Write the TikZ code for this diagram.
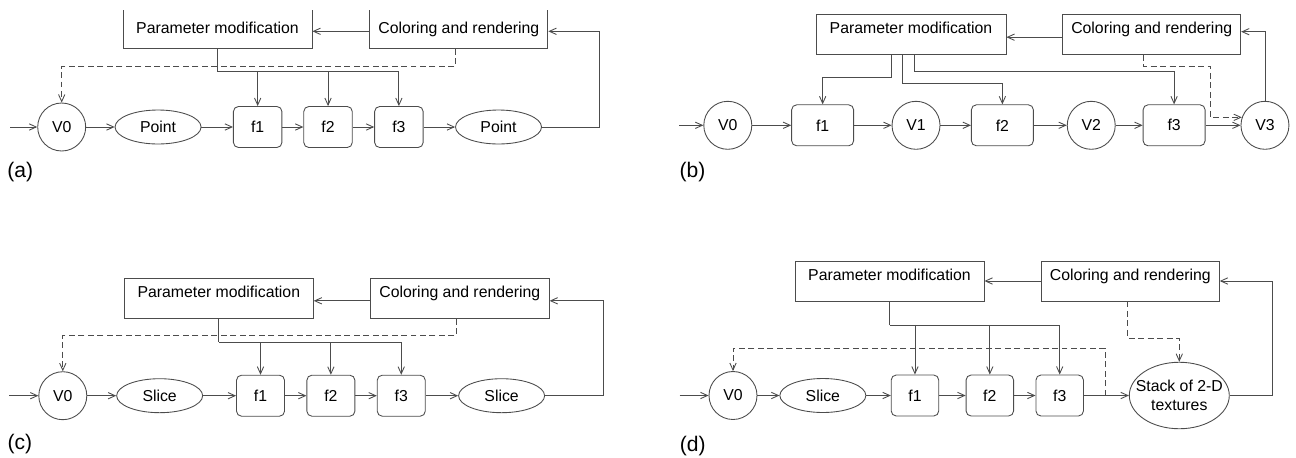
\documentclass[tikz,border=0pt]{standalone}
\usepackage{fontspec}
\setmainfont{Liberation Sans}
\usetikzlibrary{positioning, shapes.geometric, arrows.meta}

\begin{document}
\begin{tikzpicture}[x=0.02cm, y=-0.02cm, color=black!70, line width=0.5pt,
  >={Straight Barb[length=4pt,width=3.6pt]},
  font=\fontsize{9pt}{10.8pt}\selectfont,
  every node/.style={text=black},
  pbox/.style={draw, rectangle, minimum width=#1, text height=11.2pt, text depth=11.6pt, inner ysep=0pt},
  cropped/.style={text height=14.1pt, text depth=8.7pt},
  fbox/.style={draw, rectangle, rounded corners=0.1cm, minimum width=#1, minimum height=0.82cm, inner sep=0pt},
  vcirc/.style={draw, circle, minimum size=0.96cm, inner sep=0pt},
  ell/.style={draw, ellipse, minimum width=1.72cm, minimum height=0.68cm, inner sep=0pt},
  backline/.style={dash pattern=on 3.4pt off 2pt},
  tag/.style={font=\fontsize{12pt}{14pt}\selectfont}]
\useasboundingbox (0,0) rectangle (1296,457);

% (a)
\begin{scope}
\clip (0,10.5) rectangle (648,230);
\node[pbox=3.78cm, cropped] (apm) at (217.5,28.3) {Parameter modification};
\node[pbox=3.56cm, cropped] (acr) at (458.9,28.3) {Coloring and rendering};
\end{scope}
\node[vcirc] (av0) at (61.7,127) {V0};
\node[ell, right=0.57cm of av0] (apt) {Point};
\node[fbox=0.97cm, right=0.63cm of apt] (af1) {f1};
\node[fbox=0.97cm, right=0.42cm of af1] (af2) {f2};
\node[fbox=0.97cm, right=0.43cm of af2] (af3) {f3};
\node[ell, right=0.63cm of af3] (apt2) {Point};
\coordinate[left=0.54cm of av0] (ain);
\coordinate[below=0.46cm of apm] (abus);
\node[tag] (la) at (20.3,171.7) {(a)};
\draw[->] (ain) -- (av0);
\draw[->] (av0) -- (apt);
\draw[->] (apt) -- (af1);
\draw[->] (af1) -- (af2);
\draw[->] (af2) -- (af3);
\draw[->] (af3) -- (apt2);
\draw (apm) -- (abus);
\draw[->] (abus) -| (af3);
\draw[->] (abus -| af1) -- (af1);
\draw[->] (abus -| af2) -- (af2);
\draw[->] ([yshift=-0.06cm]acr.west) -- ([yshift=-0.06cm]apm.east);
\draw[->] (apt2.east) -- ++(1.16cm,0) |- ([yshift=-0.06cm]acr.east);
\draw[backline,->] ([xshift=-0.06cm]acr.south) -- ++(0,-0.35cm) -| (av0);

% (b)
\node[pbox=3.8cm] (bpm) at (911,34.2) {Parameter modification};
\node[pbox=3.56cm] (bcr) at (1151.7,34.2) {Coloring and rendering};
\node[vcirc] (bv0) at (727.8,125.3) {V0};
\node[fbox=1.24cm, right=0.78cm of bv0] (bf1) {f1};
\node[vcirc, right=0.75cm of bf1] (bv1) {V1};
\node[fbox=1.24cm, right=0.61cm of bv1] (bf2) {f2};
\node[vcirc, right=0.66cm of bf2] (bv2) {V2};
\node[fbox=1.24cm, right=0.54cm of bv2] (bf3) {f3};
\node[vcirc, right=0.7cm of bf3] (bv3) {V3};
\coordinate[left=0.48cm of bv0] (bin);
\node[tag] (lb) at (692.5,172.3) {(b)};
\draw[->] (bin) -- (bv0);
\draw[->] (bv0) -- (bf1);
\draw[->] (bf1) -- (bv1);
\draw[->] (bv1) -- (bf2);
\draw[->] (bf2) -- (bv2);
\draw[->] (bv2) -- (bf3);
\draw[->] (bf3) -- (bv3);
\draw[->] ([xshift=-0.39cm]bpm.south) -- ++(0,-0.45cm) -| (bf1);
\draw[->] ([xshift=-0.17cm]bpm.south) -- ++(0,-0.57cm) -| (bf2);
\draw[->] ([xshift=0.06cm]bpm.south) -- ++(0,-0.33cm) -| (bf3);
\draw[->] ([yshift=-0.06cm]bcr.west) -- ([yshift=-0.06cm]bpm.east);
\draw[->] (bv3) |- ([yshift=0.05cm]bcr.east);
\draw[backline,->] ([xshift=-0.17cm]bcr.south) -- ++(0,-0.23cm) -| ([xshift=-0.63cm]bv3.161) -- (bv3.161);

% (c)
\node[pbox=3.78cm] (cpm) at (218.8,298.3) {Parameter modification};
\node[pbox=3.57cm] (ccr) at (459.9,298.3) {Coloring and rendering};
\node[vcirc] (cv0) at (62.8,395.7) {V0};
\node[ell, right=0.58cm of cv0] (csl) {Slice};
\node[fbox=0.96cm, right=0.66cm of csl] (cf1) {f1};
\node[fbox=0.96cm, right=0.43cm of cf1] (cf2) {f2};
\node[fbox=0.96cm, right=0.43cm of cf2] (cf3) {f3};
\node[ell, right=0.65cm of cf3] (csl2) {Slice};
\coordinate[left=0.58cm of cv0] (cin);
\coordinate[below=0.47cm of cpm] (cbus);
\node[tag] (lc) at (19.8,444) {(c)};
\draw[->] (cin) -- (cv0);
\draw[->] (cv0) -- (csl);
\draw[->] (csl) -- (cf1);
\draw[->] (cf1) -- (cf2);
\draw[->] (cf2) -- (cf3);
\draw[->] (cf3) -- (csl2);
\draw (cpm) -- (cbus);
\draw[->] (cbus) -| (cf3);
\draw[->] (cbus -| cf1) -- (cf1);
\draw[->] (cbus -| cf2) -- (cf2);
\draw[->] ([yshift=-0.05cm]ccr.west) -- ([yshift=-0.05cm]cpm.east);
\draw[->] (csl2.east) -- ++(1.17cm,0) |- ([yshift=-0.05cm]ccr.east);
\draw[backline,->] ([xshift=-0.06cm]ccr.south) -- ++(0,-0.33cm) -| (cv0);

% (d)
\node[pbox=3.78cm] (dpm) at (889.5,281) {Parameter modification};
\node[pbox=3.56cm] (dcr) at (1130.3,281) {Coloring and rendering};
\node[vcirc] (dv0) at (733,395.5) {V0};
\node[ell, right=0.44cm of dv0] (dsl) {Slice};
\node[fbox=0.95cm, right=0.49cm of dsl] (df1) {f1};
\node[fbox=0.95cm, right=0.53cm of df1] (df2) {f2};
\node[fbox=0.95cm, right=0.43cm of df2] (df3) {f3};
\node[ell, minimum width=2cm, minimum height=1.33cm, inner xsep=-14pt, align=center,
      right=0.9cm of df3] (dst) {Stack of 2-D\\textures};
\coordinate[left=0.58cm of dv0] (din);
\coordinate[below=0.47cm of dpm] (dbus);
\coordinate[right=0.43cm of df3] (dtap);
\node[tag] (ld) at (692.8,446) {(d)};
\draw[->] (din) -- (dv0);
\draw[->] (dv0) -- (dsl);
\draw[->] (dsl) -- (df1);
\draw[->] (df1) -- (df2);
\draw[->] (df2) -- (df3);
\draw[->] (df3) -- (dst);
\draw (dpm) -- (dbus);
\draw[->] (dbus) -| (df3);
\draw[->] (dbus -| df1) -- (df1);
\draw[->] (dbus -| df2) -- (df2);
\draw[->] (dcr) -- (dpm);
\draw[->] (dst.east) -- ++(0.85cm,0) |- (dcr.east);
\draw[backline,->] (dtap) -- ++(0,0.95cm) -| (dv0);
\draw[backline,->] ([xshift=-0.06cm]dcr.south) -- ++(0,-0.73cm) -| (dst);
\end{tikzpicture}
\end{document}
